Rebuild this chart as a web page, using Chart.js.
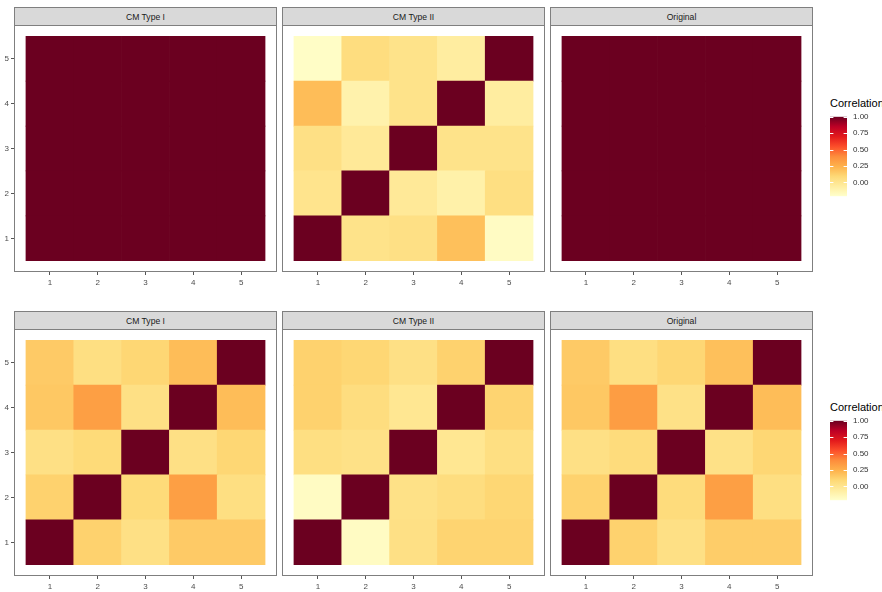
<!DOCTYPE html>
<html>
<head>
<meta charset="utf-8">
<script src="https://cdn.jsdelivr.net/npm/chart.js@4.4.1/dist/chart.umd.min.js"></script>
<style>
  html, body { margin: 0; padding: 0; background: #fff; }
  body { width: 882px; height: 592px; position: relative; overflow: hidden;
         font-family: "Liberation Sans", Arial, Helvetica, sans-serif; }
  canvas { position: absolute; }
  .strip { position: absolute; box-sizing: border-box; background: #d9d9d9;
           border: 1px solid #7f7f7f; color: #1a1a1a; font-size: 8.6px;
           text-align: center; line-height: 18px; }
  .legend-title { position: absolute; font-size: 11px; color: #000; white-space: nowrap; }
</style>
</head>
<body>
<script>
// Grid positions and their labels
const gridIndex = [1, 2, 3, 4, 5];
const tickLabels = ['1', '2', '3', '4', '5'];
const panelTitles = ['CM Type I', 'CM Type II', 'Original'];
const legendTitle = 'Correlation';
const legendBreaks = [0, 0.25, 0.5, 0.75, 1];
const fillLimits = [-0.21, 1.0];
const fillPalette = ['#FFFFCC', '#FFEDA0', '#FED976', '#FEB24C', '#FD8D3C',
                     '#FC4E2A', '#E31A1C', '#BD0026', '#6B0020'];

// Correlation matrices: rows go from y = 1 (bottom) to y = 5 (top), columns x = 1..5
const topTypeI = [
  [1, 1, 1, 1, 1],
  [1, 1, 1, 1, 1],
  [1, 1, 1, 1, 1],
  [1, 1, 1, 1, 1],
  [1, 1, 1, 1, 1]
];
const topTypeII = [
  [1, 0.02, 0.04, 0.19, -0.18],
  [0.01, 1, -0.03, -0.09, 0.05],
  [0.04, -0.03, 1, 0.02, 0.02],
  [0.20, -0.10, 0.02, 1, -0.06],
  [-0.19, 0.06, 0.02, -0.06, 1]
];
const topOriginal = [
  [1, 1, 1, 1, 1],
  [1, 1, 1, 1, 1],
  [1, 1, 1, 1, 1],
  [1, 1, 1, 1, 1],
  [1, 1, 1, 1, 1]
];
const bottomTypeI = [
  [1, 0.12, 0.04, 0.15, 0.15],
  [0.12, 1, 0.08, 0.32, 0.05],
  [0.04, 0.08, 1, 0.04, 0.10],
  [0.16, 0.32, 0.04, 1, 0.20],
  [0.15, 0.05, 0.10, 0.20, 1]
];
const bottomTypeII = [
  [1, -0.18, 0.04, 0.11, 0.11],
  [-0.18, 1, 0.03, 0.06, 0.10],
  [0.05, 0.03, 1, -0.01, 0.05],
  [0.12, 0.06, -0.01, 1, 0.11],
  [0.12, 0.10, 0.04, 0.12, 1]
];
const bottomOriginal = [
  [1, 0.12, 0.04, 0.14, 0.14],
  [0.12, 1, 0.07, 0.32, 0.05],
  [0.04, 0.07, 1, 0.03, 0.10],
  [0.16, 0.33, 0.03, 1, 0.20],
  [0.15, 0.05, 0.10, 0.19, 1]
];

const rowsOfPanels = [
  [topTypeI, topTypeII, topOriginal],
  [bottomTypeI, bottomTypeII, bottomOriginal]
];

// ---- colour scale ----
function hexToRgb(h) {
  const n = parseInt(h.slice(1), 16);
  return [(n >> 16) & 255, (n >> 8) & 255, n & 255];
}
const paletteRgb = fillPalette.map(hexToRgb);
function fillFor(v) {
  let t = (v - fillLimits[0]) / (fillLimits[1] - fillLimits[0]);
  t = Math.max(0, Math.min(1, t)) * (paletteRgb.length - 1);
  const i = Math.min(Math.floor(t), paletteRgb.length - 2);
  const f = t - i;
  const a = paletteRgb[i], b = paletteRgb[i + 1];
  const c = a.map((av, k) => Math.round(av + (b[k] - av) * f));
  return `rgb(${c[0]},${c[1]},${c[2]})`;
}

// ---- layout ----
const FONT = '"Liberation Sans", Arial, Helvetica, sans-serif';
const PANEL_W = 263, PANEL_H = 247;
const panelLefts = [14, 282, 550];
const stripTops = [7, 311];
const STRIP_H = 19;
const AXIS_W = 14, AXIS_H = 20, PAD_TOP = 8, PAD_RIGHT = 2;

const panelBorder = {
  id: 'panelBorder',
  afterDraw(chart) {
    const { ctx, chartArea: a } = chart;
    ctx.save();
    ctx.strokeStyle = '#7f7f7f';
    ctx.lineWidth = 1;
    ctx.strokeRect(a.left + 0.5, a.top + 0.5, a.right - a.left - 1, a.bottom - a.top - 1);
    ctx.restore();
  }
};

function addStrip(text, left, top) {
  const d = document.createElement('div');
  d.className = 'strip';
  d.style.left = left + 'px';
  d.style.top = top + 'px';
  d.style.width = PANEL_W + 'px';
  d.style.height = STRIP_H + 'px';
  d.textContent = text;
  document.body.appendChild(d);
}

function addCanvas(left, top, w, h) {
  const c = document.createElement('canvas');
  c.width = w; c.height = h;
  c.style.left = left + 'px'; c.style.top = top + 'px';
  c.style.width = w + 'px'; c.style.height = h + 'px';
  document.body.appendChild(c);
  return c;
}

function heatPanel(matrix, col, rowIdx) {
  const panelTop = stripTops[rowIdx] + STRIP_H - 1;
  const canvas = addCanvas(panelLefts[col] - AXIS_W, panelTop - PAD_TOP,
                           AXIS_W + PANEL_W + PAD_RIGHT, PAD_TOP + PANEL_H + AXIS_H);
  const datasets = gridIndex.map((yv, r) => ({
    data: gridIndex.map((xv) => ({ x: xv, y: [yv - 0.5, yv + 0.5] })),
    backgroundColor: gridIndex.map((xv, c) => fillFor(matrix[r][c])),
    borderWidth: 0,
    grouped: false,
    categoryPercentage: 1,
    barPercentage: 1
  }));
  const tickStyle = { color: '#4d4d4d', font: { family: FONT, size: 8 } };
  new Chart(canvas, {
    type: 'bar',
    data: { datasets },
    options: {
      responsive: false,
      animation: false,
      events: [],
      layout: { padding: { top: PAD_TOP, right: PAD_RIGHT, left: 0, bottom: 0 } },
      plugins: { legend: { display: false }, tooltip: { enabled: false } },
      scales: {
        x: {
          type: 'linear', min: 0.25, max: 5.75, offset: false,
          afterBuildTicks: (s) => { s.ticks = gridIndex.map((v) => ({ value: v })); },
          afterFit: (s) => { s.height = AXIS_H; },
          ticks: Object.assign({ padding: 3, maxRotation: 0, autoSkip: false,
                                 callback: (v, i) => tickLabels[i] }, tickStyle),
          grid: { drawOnChartArea: false, drawTicks: true, tickLength: 3,
                  color: '#555', offset: false },
          border: { display: false }
        },
        y: {
          type: 'linear', min: 0.25, max: 5.75,
          afterBuildTicks: (s) => { s.ticks = gridIndex.map((v) => ({ value: v })); },
          afterFit: (s) => { s.width = AXIS_W; },
          ticks: Object.assign({ padding: 2, autoSkip: false, display: col === 0,
                                 callback: (v, i) => tickLabels[i] }, tickStyle),
          grid: { drawOnChartArea: false, drawTicks: col === 0, tickLength: 3, color: '#555' },
          border: { display: false }
        }
      }
    },
    plugins: [panelBorder]
  });
  addStrip(panelTitles[col], panelLefts[col], stripTops[rowIdx]);
}

// ---- colour bar legend ----
const colourBar = {
  id: 'colourBar',
  beforeDatasetsDraw(chart) {
    const { ctx, chartArea: a, scales } = chart;
    const y = scales.y;
    const g = ctx.createLinearGradient(0, y.getPixelForValue(fillLimits[0]), 0,
                                       y.getPixelForValue(fillLimits[1]));
    fillPalette.forEach((c, i) => g.addColorStop(i / (fillPalette.length - 1), c));
    ctx.save();
    ctx.fillStyle = g;
    ctx.fillRect(a.left, a.top, a.right - a.left, a.bottom - a.top);
    ctx.strokeStyle = '#ffffff';
    ctx.lineWidth = 1;
    const tick = (a.right - a.left) / 5;
    legendBreaks.forEach((b) => {
      const py = Math.round(y.getPixelForValue(b)) + 0.5;
      ctx.beginPath();
      ctx.moveTo(a.left, py); ctx.lineTo(a.left + tick, py);
      ctx.moveTo(a.right - tick, py); ctx.lineTo(a.right, py);
      ctx.stroke();
    });
    ctx.restore();
  }
};

function legend(rowIdx) {
  const off = stripTops[rowIdx] - stripTops[0];
  const barTop = 114 + off, barH = 85, barW = 17;
  const t = document.createElement('div');
  t.className = 'legend-title';
  t.style.left = '830px';
  t.style.top = (97 + off) + 'px';
  t.textContent = legendTitle;
  document.body.appendChild(t);
  const w = 52;
  const canvas = addCanvas(830, barTop - 8, w, barH + 16);
  new Chart(canvas, {
    type: 'bar',
    data: { datasets: [] },
    options: {
      responsive: false,
      animation: false,
      events: [],
      layout: { padding: { top: 8, bottom: 8, left: 0, right: 0 } },
      plugins: { legend: { display: false }, tooltip: { enabled: false } },
      scales: {
        x: { display: false },
        y: {
          position: 'right', type: 'linear', min: fillLimits[0], max: fillLimits[1],
          afterBuildTicks: (s) => { s.ticks = legendBreaks.map((v) => ({ value: v })); },
          afterFit: (s) => { s.width = w - barW; },
          ticks: { padding: 6, color: '#333', font: { family: FONT, size: 8 },
                   callback: (v) => Number(v).toFixed(2) },
          grid: { display: false, drawTicks: false },
          border: { display: false }
        }
      }
    },
    plugins: [colourBar]
  });
}

rowsOfPanels.forEach((panels, rowIdx) => {
  panels.forEach((m, col) => heatPanel(m, col, rowIdx));
  legend(rowIdx);
});
</script>
</body>
</html>
